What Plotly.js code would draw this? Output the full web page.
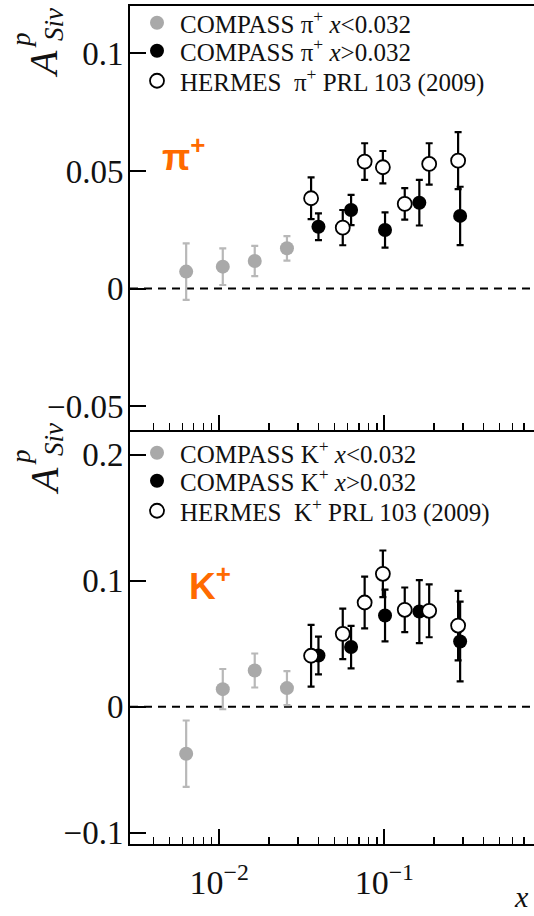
<!DOCTYPE html>
<html>
<head>
<meta charset="utf-8">
<script src="https://cdn.plot.ly/plotly-3.0.1.min.js"></script>
<style>html,body{margin:0;padding:0;background:#fff;}#chart{width:534px;height:916px;}</style>
</head>
<body>
<div id="chart"></div>
<script>
// ---------- data ----------
// pi+ panel
const piLowX   = [0.0063, 0.0105, 0.0164, 0.0257];
const piLowY   = [0.0072, 0.0093, 0.0117, 0.0171];
const piLowErr = [0.0120, 0.0078, 0.0064, 0.0052];

const piHighX   = [0.0399, 0.0629, 0.101, 0.163, 0.288];
const piHighY   = [0.0263, 0.0334, 0.0249, 0.0365, 0.0309];
const piHighErr = [0.0057, 0.0064, 0.0075, 0.0097, 0.0124];

const piHerX   = [0.036, 0.056, 0.076, 0.098, 0.133, 0.187, 0.280];
const piHerY   = [0.0384, 0.0259, 0.0540, 0.0516, 0.0360, 0.0530, 0.0544];
const piHerErr = [0.0089, 0.0075, 0.0078, 0.0069, 0.0067, 0.0088, 0.0121];

// K+ panel
const kLowX   = [0.0063, 0.0105, 0.0164, 0.0257];
const kLowY   = [-0.0373, 0.0140, 0.0288, 0.0148];
const kLowErr = [0.0264, 0.0160, 0.0135, 0.0135];

const kHighX   = [0.0399, 0.0629, 0.101, 0.163, 0.288];
const kHighY   = [0.0407, 0.0474, 0.0725, 0.0756, 0.0518];
const kHighErr = [0.0150, 0.0169, 0.0205, 0.0250, 0.0317];

const kHerX   = [0.036, 0.056, 0.076, 0.098, 0.133, 0.187, 0.280];
const kHerY   = [0.0405, 0.0579, 0.0828, 0.1056, 0.0770, 0.0762, 0.0645];
const kHerErr = [0.0245, 0.0200, 0.0206, 0.0185, 0.0177, 0.0210, 0.0276];

// legend labels
const piNames = ['COMPASS \u03c0<sup>+</sup> <i>x</i>&lt;0.032',
                 'COMPASS \u03c0<sup>+</sup> <i>x</i>&gt;0.032',
                 'HERMES\u00a0\u00a0\u03c0<sup>+</sup> PRL 103 (2009)'];
const kNames  = ['COMPASS K<sup>+</sup> <i>x</i>&lt;0.032',
                 'COMPASS K<sup>+</sup> <i>x</i>&gt;0.032',
                 'HERMES\u00a0\u00a0K<sup>+</sup> PRL 103 (2009)'];

// tick labels
const xMajorTicks = [0.01, 0.1];
const xMajorText  = ['10<sup>\u22122</sup>', '10<sup>\u22121</sup>'];
const xMinorTicks = [0.004,0.005,0.006,0.007,0.008,0.009,
                     0.02,0.03,0.04,0.05,0.06,0.07,0.08,0.09,
                     0.2,0.3,0.4,0.5,0.6,0.7,0.8];
const yPiTicks = [-0.05, 0, 0.05, 0.1];
const yPiText  = ['\u22120.05', '0', '0.05', '0.1'];
const yKTicks  = [-0.1, 0, 0.1, 0.2];
const yKText   = ['\u22120.1', '0', '0.1', '0.2'];

// ---------- styling ----------
const SERIF = '"Liberation Serif", "Times New Roman", serif';
const GRAY = '#a9a9a9';
const GRAYBAR = '#b8b8b8';

function trace(x, y, err, kind, xa, ya, name, leg) {
  const isGray = kind === 'gray';
  const isOpen = kind === 'open';
  return {
    type: 'scatter', mode: 'markers', x: x, y: y, name: name,
    xaxis: xa, yaxis: ya, legend: leg, cliponaxis: false,
    error_y: {type: 'data', array: err, visible: true,
              color: isGray ? GRAYBAR : '#000', thickness: 2.2, width: 3.5},
    marker: {symbol: 'circle', size: 14,
             color: isGray ? GRAY : (isOpen ? '#fff' : '#000'),
             line: {width: isOpen ? 1.8 : 0, color: '#000'}}
  };
}

const data = [
  trace(piLowX, piLowY, piLowErr, 'gray', 'x', 'y', piNames[0], 'legend'),
  trace(piHighX, piHighY, piHighErr, 'black', 'x', 'y', piNames[1], 'legend2'),
  trace(piHerX, piHerY, piHerErr, 'open', 'x', 'y', piNames[2], 'legend3'),
  trace(kLowX, kLowY, kLowErr, 'gray', 'x2', 'y2', kNames[0], 'legend4'),
  trace(kHighX, kHighY, kHighErr, 'black', 'x2', 'y2', kNames[1], 'legend5'),
  trace(kHerX, kHerY, kHerErr, 'open', 'x2', 'y2', kNames[2], 'legend6')
];

// geometry helpers (pixel -> paper)
const L = 130, R = 0, T = 6, B = 72, W = 534, H = 916;
const PW = W - L - R, PH = H - T - B;
const px = v => (v - L) / PW;
const py = v => (H - B - v) / PH;
const split = py(430);

function legendAt(yPix) {
  return {x: px(134), xanchor: 'left', y: py(yPix), yanchor: 'middle',
          bgcolor: 'rgba(0,0,0,0)', borderwidth: 0, itemwidth: 36,
          font: {family: SERIF, size: 25, color: '#111'}};
}

const xCommon = {
  type: 'log', range: [-2.541, -0.093], showgrid: false, zeroline: false,
  showline: true, linecolor: '#000', linewidth: 2,
  ticks: 'inside', ticklen: 15, tickwidth: 2, tickcolor: '#000',
  tickmode: 'array', tickvals: xMajorTicks,
  minor: {ticks: 'inside', ticklen: 7, tickwidth: 1.5, tickcolor: '#000',
          tickmode: 'array', tickvals: xMinorTicks, showgrid: false}
};
const yCommon = {
  showgrid: false, zeroline: false, showline: true, linecolor: '#000', linewidth: 2,
  ticks: 'inside', ticklen: 16, tickwidth: 2, tickcolor: '#000', tickmode: 'array',
  ticklabelstandoff: -2,
  tickfont: {family: SERIF, size: 33, color: '#111'}
};

const ann = [];
function addTitle(aY, pY, sY) {
  ann.push({xref: 'paper', yref: 'paper', x: px(44), y: py(aY), text: '<i>A</i>',
            showarrow: false, textangle: -90, xanchor: 'center', yanchor: 'middle',
            font: {family: SERIF, size: 40, color: '#111'}});
  ann.push({xref: 'paper', yref: 'paper', x: px(21), y: py(pY), text: '<i>p</i>',
            showarrow: false, textangle: -90, xanchor: 'center', yanchor: 'middle',
            font: {family: SERIF, size: 27, color: '#111'}});
  ann.push({xref: 'paper', yref: 'paper', x: px(54), y: py(sY), text: '<i>Siv</i>',
            showarrow: false, textangle: -90, xanchor: 'center', yanchor: 'middle',
            font: {family: SERIF, size: 27, color: '#111'}});
}
addTitle(64, 40, 25);
addTitle(481, 457, 440);
ann.push({xref: 'paper', yref: 'paper', x: px(183), y: py(155), text: '<b>\u03c0<sup>+</sup></b>',
          showarrow: false, xanchor: 'center', yanchor: 'middle',
          font: {family: '"Liberation Sans", Arial, sans-serif', size: 37, color: '#ff6a00'}});
ann.push({xref: 'paper', yref: 'paper', x: px(210), y: py(583), text: '<b>K<sup>+</sup></b>',
          showarrow: false, xanchor: 'center', yanchor: 'middle',
          font: {family: '"Liberation Sans", Arial, sans-serif', size: 37, color: '#ff6a00'}});
ann.push({xref: 'paper', yref: 'paper', x: px(521), y: py(915), text: '<i>x</i>',
          showarrow: false, xanchor: 'center', yanchor: 'bottom',
          font: {family: SERIF, size: 30, color: '#111'}});

const layout = {
  width: W, height: H, margin: {l: L, r: R, t: T, b: B, pad: 0},
  paper_bgcolor: '#fff', plot_bgcolor: '#fff', showlegend: true,
  xaxis: Object.assign({}, xCommon, {anchor: 'y', mirror: true, showticklabels: false}),
  xaxis2: Object.assign({}, xCommon, {anchor: 'y2', matches: 'x', showticklabels: true,
          ticktext: xMajorText, ticklabelstandoff: 7,
          tickfont: {family: SERIF, size: 34, color: '#111'}}),
  yaxis: Object.assign({}, yCommon, {domain: [split, 1], anchor: 'x', range: [-0.0602, 0.1202],
          tickvals: yPiTicks, ticktext: yPiText}),
  yaxis2: Object.assign({}, yCommon, {domain: [0, split], anchor: 'x2', range: [-0.109, 0.2198],
          tickvals: yKTicks, ticktext: yKText}),
  legend: legendAt(23), legend2: legendAt(51), legend3: legendAt(81),
  legend4: legendAt(453), legend5: legendAt(481), legend6: legendAt(511),
  shapes: [
    {type: 'line', xref: 'x domain', yref: 'y', x0: 0, x1: 1, y0: 0, y1: 0, layer: 'below',
     line: {color: '#000', width: 2, dash: '8px,6px'}},
    {type: 'line', xref: 'x2 domain', yref: 'y2', x0: 0, x1: 1, y0: 0, y1: 0, layer: 'below',
     line: {color: '#000', width: 2, dash: '8px,6px'}}
  ],
  annotations: ann
};

Plotly.newPlot('chart', data, layout, {displayModeBar: false, staticPlot: true});
</script>
</body>
</html>
